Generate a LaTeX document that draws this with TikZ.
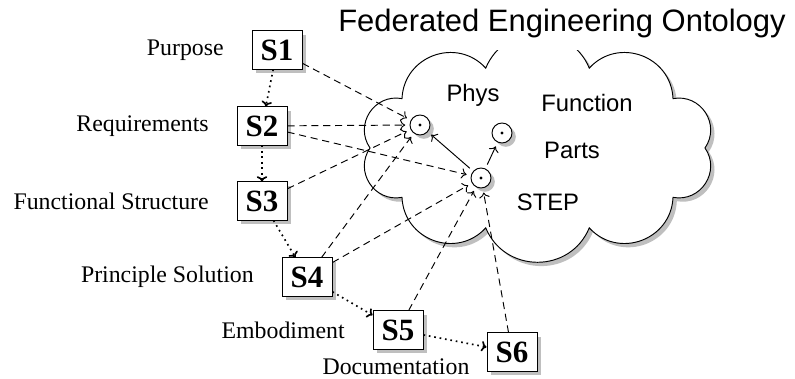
\documentclass[tikz,border=0pt]{standalone}
\usepackage{fontspec}
\setmainfont{Liberation Serif}
\setsansfont{Liberation Sans}
\usetikzlibrary{arrows.meta, positioning, shadows}

\begin{document}
\begin{tikzpicture}[
    x=0.42pt, y=0.42pt,
    >={To[length=2.2pt, width=4.4pt]},
    shade/.style={shadow xshift=1.6pt, shadow yshift=-1.6pt, fill=black!25, opacity=1},
    stage/.style={
        draw=black,
        fill=white,
        inner sep=0pt,
        minimum width=21pt,
        minimum height=16pt,
        font=\fontsize{13}{15}\selectfont\bfseries,
        drop shadow={shade}
    },
    stagelabel/.style={font=\fontsize{10}{12}\selectfont, inner sep=2pt},
    concept/.style={
        circle,
        draw=black,
        fill=white,
        minimum size=8.4pt,
        inner sep=0pt,
        outer sep=2pt,
        drop shadow={shade}
    },
    conceptdot/.style={circle, fill=black, inner sep=0pt, minimum size=1.4pt},
    onto/.style={font=\sffamily\fontsize{10}{12}\selectfont},
    cloudbody/.style={draw=black, fill=white, drop shadow={shade}},
    link/.style={->, dash pattern=on 3pt off 2pt},
    flow/.style={->, line width=0.7pt, dash pattern=on 0.7pt off 1.6pt}
]
\useasboundingbox (0,0) rectangle (795,-379);

% ontology cloud
\path[cloudbody, shift={(537.5,-148)}] (0:167.5 and 84)
    \foreach \t [evaluate={\t as \tn using \t+36},
                 evaluate={\t as \oa using atan2(84*(sin(\t+36)-sin(\t)),167.5*(cos(\t+36)-cos(\t)))-67.5},
                 evaluate={\t as \ia using atan2(84*(sin(\t+36)-sin(\t)),167.5*(cos(\t+36)-cos(\t)))-112.5}]
        in {0,36,...,324} {
        to[out=\oa, in=\ia, looseness=1.23] (\tn:167.5 and 84)
    } -- cycle;

\node[font=\sffamily\fontsize{13}{15}\selectfont, fill=white, inner xsep=2pt, inner ysep=5pt, anchor=base]
    (title) at (562,-32) {Federated Engineering Ontology};

\node[onto] (physlbl) at (473,-95) {Phys};
\node[onto] (funclbl) at (587,-103) {Function};
\node[onto] (partslbl) at (572,-150) {Parts};
\node[onto] (steplbl) at (548,-202) {STEP};

\node[concept] (phys) at (420,-125) {};
\node[concept] (func) at (502,-133) {};
\node[concept] (stp) at (481,-178) {};
\node[conceptdot] (physdot) at (phys) {};
\node[conceptdot] (funcdot) at (func) {};
\node[conceptdot] (stpdot) at (stp) {};

% design stages
\node[stage] (s1) at (277,-50) {S1};
\node[stage] (s2) at (262,-126) {S2};
\node[stage] (s3) at (262,-201) {S3};
\node[stage] (s4) at (307,-277) {S4};
\node[stage] (s5) at (398,-330) {S5};
\node[stage] (s6) at (512,-352) {S6};

\node[stagelabel, left=9.5pt of s1] (purpose) {Purpose};
\node[stagelabel, left=9.5pt of s2] (requirements) {Requirements};
\node[stagelabel, left=9.5pt of s3] (functional) {Functional Structure};
\node[stagelabel, left=9.5pt of s4] (principle) {Principle Solution};
\node[stagelabel, left=9.5pt of s5] (embodiment) {Embodiment};
\node[stagelabel, left=5pt of s6, yshift=-6.3pt] (documentation) {Documentation};

\draw[flow] (s1) -- (s2);
\draw[flow] (s2) -- (s3);
\draw[flow] (s3) -- (s4);
\draw[flow] (s4) -- (s5);
\draw[flow] (s5) -- (s6);

\draw[link] (s1) -- (phys);
\draw[link] (s2) -- (phys);
\draw[link] (s2) -- (stp);
\draw[link] (s3) -- (phys);
\draw[link] (s4) -- (phys);
\draw[link] (s4) -- (stp);
\draw[link] (s5) -- (stp);
\draw[link] (s6) -- (stp);

\draw[->] (stp) -- (phys);
\draw[->] (stp) -- (func);

\end{tikzpicture}
\end{document}
